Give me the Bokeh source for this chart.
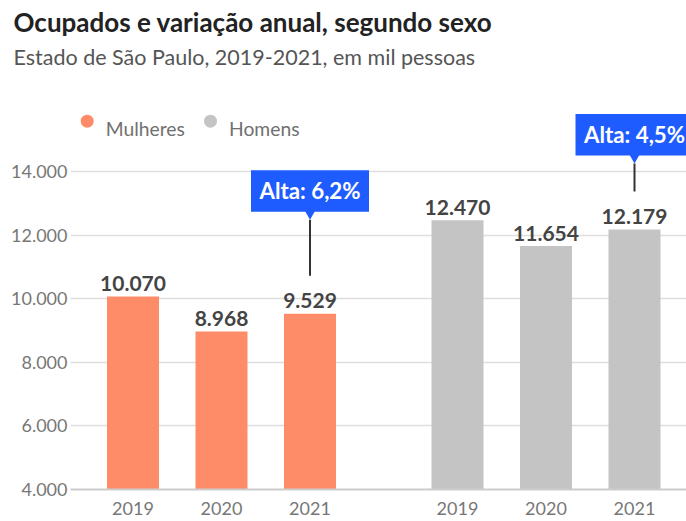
from bokeh.plotting import figure
from bokeh.models import Range1d, FixedTicker, ColumnDataSource, Title
from bokeh.core.properties import value
from bokeh.embed import file_html
from bokeh.resources import INLINE
import math

# ---------------- data ----------------
title_text = "Ocupados e variação anual, segundo sexo"
subtitle_text = "Estado de São Paulo, 2019-2021, em mil pessoas"
years = ["2019", "2020", "2021"]
series_names = ["Mulheres", "Homens"]
mulheres = [10070, 8968, 9529]
homens = [12470, 11654, 12179]
callout_texts = ["Alta: 6,2%", "Alta: 4,5%"]
y_ticks = [4000, 6000, 8000, 10000, 12000, 14000]
y_tick_labels = ["4.000", "6.000", "8.000", "10.000", "12.000", "14.000"]

# ---------------- style / geometry ----------------
COLORS = ["#ff8c69", "#c4c4c4"]
BLUE = "#1f5cff"
FONT = "Lato"
FL, FB, FT = 70, 31, 0
FW, FH = 616, 420
FRAME_BOTTOM = 490
Y0 = 4000
PX_PER_UNIT = 318 / 10000.0
Y1 = Y0 + FH / PX_PER_UNIT
DPP = 1 / PX_PER_UNIT
STEP, GROUP_GAP = 3, 2
UNIT_PX = 29.5
X0 = -62.5 / UNIT_PX
X1 = X0 + FW / UNIT_PX
BAR_W = 52 / UNIT_PX


def fx(px):  # page px -> chart data x
    return X0 + (px - FL) / UNIT_PX


def fy(py):  # page px (from top) -> chart data y
    return Y0 + (FRAME_BOTTOM - py) * DPP


p = figure(frame_width=FW, frame_height=FH, x_range=Range1d(X0, X1), y_range=Range1d(Y0, Y1),
           output_backend="svg", toolbar_location=None, title=None,
           min_border_left=FL, min_border_right=0, min_border_top=FT, min_border_bottom=FB)
p.outline_line_color = None
p.background_fill_color = "white"
p.border_fill_color = "white"

# title + subtitle (subtitle added first: it sits nearest the frame)
p.add_layout(Title(text=subtitle_text, align="left", offset=13 - FL, standoff=0,
                   text_font=FONT, text_font_style="normal", text_font_size="21.5px",
                   text_color="#555555"), "above")
p.add_layout(Title(text=title_text, align="left", offset=13 - FL, standoff=7,
                   text_font=FONT, text_font_style="bold", text_font_size="26px",
                   text_color="#222222"), "above")

all_vals = [mulheres, homens]
tick_pos = []
tick_lab = {}
legend_x = [86.7, 210]
for g, vals in enumerate(all_vals):
    xs = [g * (len(years) * STEP + GROUP_GAP) + i * STEP for i in range(len(years))]
    for x, yl in zip(xs, years):
        tick_pos.append(x)
        tick_lab[x] = yl
    src = ColumnDataSource(dict(x=xs, top=vals,
                                lab=[f"{v:,}".replace(",", ".") for v in vals],
                                ly=[v + 13 * DPP for v in vals]))
    p.vbar(x="x", top="top", bottom=Y0, width=BAR_W, source=src,
           fill_color=COLORS[g], line_color=None)
    p.text(x="x", y="ly", text="lab", source=src, text_align="center",
           text_baseline="alphabetic", text_font=value(FONT), text_font_style="bold",
           text_font_size="21px", text_color="#444444")

    # legend entry
    p.scatter(x=[fx(legend_x[g])], y=[fy(121.7)], marker="circle", size=13,
              fill_color=COLORS[g], line_color=None)
    p.text(x=[fx(legend_x[g] + 18.5)], y=[fy(129)], text=[series_names[g]],
           text_font=value(FONT), text_font_size="19.3px", text_color="#707070",
           text_baseline="alphabetic")

    # callout on last bar
    LINE_PX = [56, 28][g]
    top = vals[-1]
    xc = xs[-1]
    line_bottom = top + 38 * DPP
    tip = line_bottom + LINE_PX * DPP
    box_bottom = tip + 8 * DPP
    box_center = box_bottom + 20.75 * DPP
    p.segment(x0=[xc], y0=[line_bottom], x1=[xc], y1=[tip], line_color="#333333", line_width=2)
    tri = 16
    p.scatter(x=[xc], y=[tip + tri / math.sqrt(3) * DPP], marker="inverted_triangle",
              size=tri, fill_color=BLUE, line_color=None)
    p.rect(x=[xc], y=[box_center], width=118, height=41.5, width_units="screen",
           height_units="screen", fill_color=BLUE, line_color=None)
    p.text(x=[xc], y=[box_center], text=[callout_texts[g]], text_align="center",
           text_baseline="middle", text_font=value(FONT), text_font_style="bold",
           text_font_size="22.3px", text_color="white")

# axes
p.xaxis.ticker = FixedTicker(ticks=tick_pos)
p.xaxis.major_label_overrides = tick_lab
p.xaxis.major_tick_line_color = None
p.xaxis.minor_tick_line_color = None
p.xaxis.axis_line_color = "#cccccc"
p.xaxis.axis_line_width = 2
p.xaxis.major_label_text_font = FONT
p.xaxis.major_label_text_font_size = "18px"
p.xaxis.major_label_text_color = "#777777"
p.xaxis.major_label_standoff = 6

p.yaxis.ticker = FixedTicker(ticks=y_ticks)
p.yaxis.major_label_overrides = dict(zip(y_ticks, y_tick_labels))
p.yaxis.major_tick_line_color = None
p.yaxis.minor_tick_line_color = None
p.yaxis.major_tick_out = 0
p.yaxis.minor_tick_out = 0
p.yaxis.axis_line_color = None
p.yaxis.major_label_text_font = FONT
p.yaxis.major_label_text_font_size = "18px"
p.yaxis.major_label_text_color = "#777777"
p.yaxis.major_label_standoff = 3

p.xgrid.grid_line_color = None
p.ygrid.ticker = FixedTicker(ticks=y_ticks)
p.ygrid.grid_line_color = "#dedede"
p.ygrid.grid_line_width = 1.5

open("out.html", "w").write(file_html(p, INLINE))
